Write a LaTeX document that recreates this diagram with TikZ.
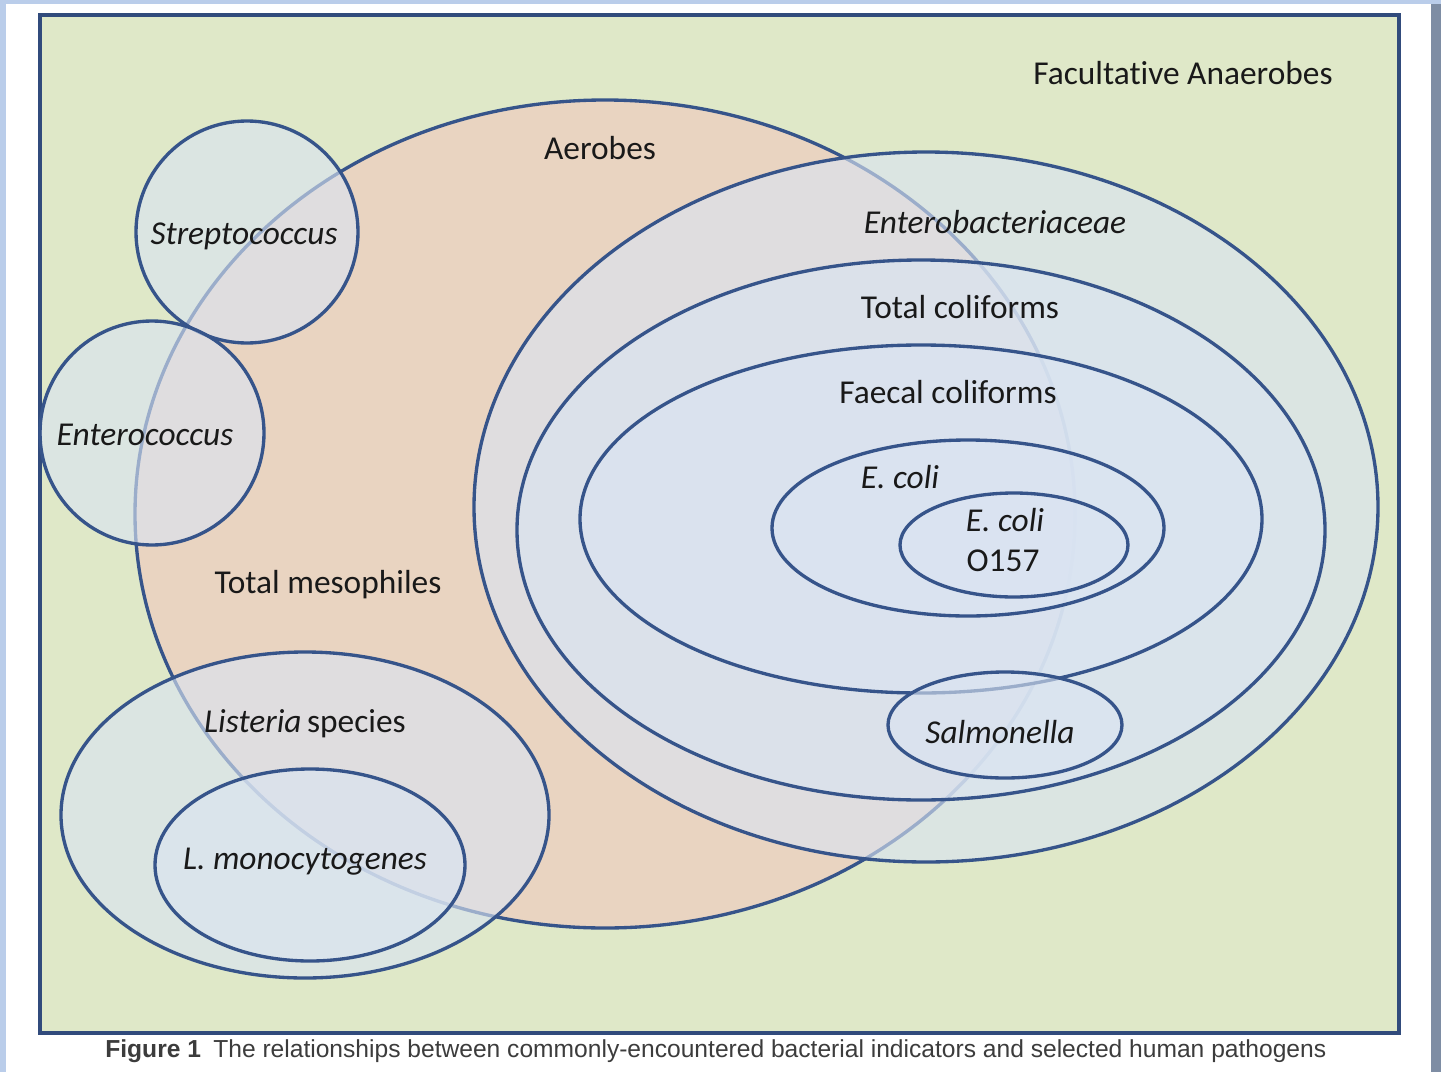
\documentclass[tikz,border=0pt]{standalone}
\usepackage{fontspec}
\setmainfont{Carlito}[Ligatures=CommonOff]
\newfontfamily\capfont{Liberation Sans}
\usetikzlibrary{positioning}

\definecolor{setline}{HTML}{36548A}
\definecolor{setfill}{HTML}{DAE4F2}
\definecolor{anaerobes}{HTML}{DFE8C8}
\definecolor{aerobes}{HTML}{E9D4C1}
\definecolor{slide}{HTML}{BACDEA}
\definecolor{slidedark}{HTML}{7E8DA4}
\definecolor{captext}{HTML}{3C3C3C}

\tikzset{
  set/.style={draw=setline, line width=1.9pt, fill=setfill, fill opacity=0.62},
  lbl/.style={anchor=base, inner sep=0pt, text=black!90, font=\fontsize{19}{23}\selectfont},
  itlbl/.style={lbl, font=\fontsize{19}{23}\selectfont\itshape}
}

\begin{document}
\begin{tikzpicture}[x=0.02cm,y=-0.02cm]
  \useasboundingbox (0,0) rectangle (1441,1072);
  \fill[white] (0,0) rectangle (1441,1072);
  % slide edges
  \fill[slide] (0,0) rectangle (6,1072);
  \fill[slide] (0,0) rectangle (1441,4);
  \fill[slidedark] (1431,4) rectangle (1441,1072);

  % facultative anaerobes box
  \draw[setline!90!black, line width=2.2pt, fill=anaerobes] (40,15) rectangle (1399,1033);

  % aerobes
  \draw[draw=setline, line width=1.9pt, fill=aerobes] (605,514) ellipse [x radius=470, y radius=414];

  % gram-negative nest
  \draw[set] (926,507) ellipse [x radius=452, y radius=355];
  \draw[set] (921,530) ellipse [x radius=404, y radius=270];
  \draw[set] (921,519) ellipse [x radius=341, y radius=174];
  \draw[set] (968,528) ellipse [x radius=196, y radius=88];
  \draw[set] (1014,545) ellipse [x radius=114, y radius=52];
  \draw[set] (1005,725) ellipse [x radius=117, y radius=53];

  % gram-positive groups
  \draw[set] (247,232) circle [radius=111];
  \draw[set] (152,433) circle [radius=112];
  \draw[set] (305,815) ellipse [x radius=244, y radius=163];
  \draw[set] (310,865) ellipse [x radius=155, y radius=96];

  % labels
  \node[lbl] (facult) at (1183,84) {Facultative Anaerobes};
  \node[lbl] (aerob) at (600,159) {Aerobes};
  \node[itlbl] (entero) at (995,233) {Enterobacteriaceae};
  \node[lbl] (totcol) at (960,318) {Total coliforms};
  \node[lbl] (faecol) at (948,403) {Faecal coliforms};
  \node[itlbl] (ecoli) at (900,488) {E. coli};
  \node[itlbl] (ecolio) at (1005,531) {E. coli};
  \node[lbl] (oserot) at (1003,571) {O157};
  \node[itlbl] (salmon) at (1000,743) {Salmonella};
  \node[itlbl] (strep) at (244,244) {Streptococcus};
  \node[itlbl] (enteroc) at (145,445) {Enterococcus};
  \node[lbl] (totmes) at (328,593) {Total mesophiles};
  \node[lbl] (lister) at (305,732) {\textit{Listeria}\,species};
  \node[itlbl] (lmono) at (305,869) {L. monocytogenes};

  % caption
  \node[anchor=base west, inner sep=0pt, text=captext, font=\capfont\fontsize{14}{16}\selectfont] (caption) at (105,1057)
    {\textbf{Figure 1}\enspace The relationships between commonly-encountered bacterial indicators and selected human pathogens};
\end{tikzpicture}
\end{document}
